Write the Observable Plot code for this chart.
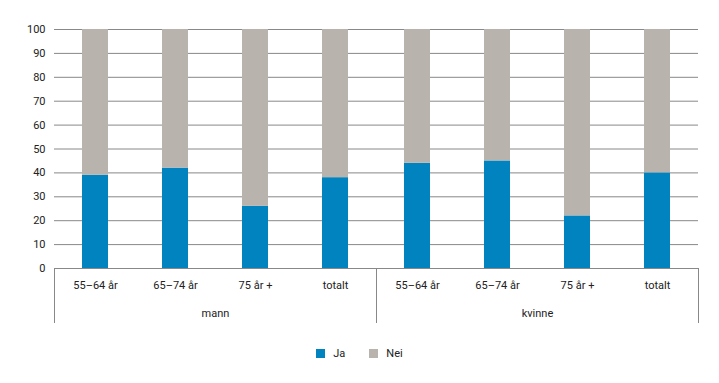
<!DOCTYPE html>
<html>
<head>
<meta charset="utf-8">
<script src="https://cdn.jsdelivr.net/npm/d3@7"></script>
<script src="https://cdn.jsdelivr.net/npm/@observablehq/plot@0.6"></script>
<style>
  body { margin: 0; background: #fff; font-family: Roboto, "Open Sans", sans-serif; }
  #chart { width: 719px; }
  .legend { display: flex; justify-content: center; align-items: center; font-size: 11px; color: #222; margin-top: 12px; gap: 0; }
  .legend .item { display: flex; align-items: center; margin: 0 12px; }
  .legend .sw { width: 9px; height: 9px; display: inline-block; margin-right: 8px; }
</style>
</head>
<body>
<div id="chart"></div>
<script>
const sexes = ["mann", "kvinne"];
const ages = ["55–64 år", "65–74 år", "75 år +", "totalt"];
const jaMann = [39, 42, 26, 38];
const neiMann = [61, 58, 74, 62];
const jaKvinne = [44, 45, 22, 40];
const neiKvinne = [56, 55, 78, 60];
const svar = ["Ja", "Nei"];
const colors = ["#0083be", "#b8b3ad"];
const yTicks = [0, 10, 20, 30, 40, 50, 60, 70, 80, 90, 100];

const series = { mann: [jaMann, neiMann], kvinne: [jaKvinne, neiKvinne] };
const data = [];
for (const s of sexes) {
  ages.forEach((a, j) => {
    svar.forEach((v, k) => data.push({ sex: s, age: a, svar: v, value: series[s][k][j] }));
  });
}

const plot = Plot.plot({
  width: 719,
  height: 335,
  marginTop: 29,
  marginBottom: 67,
  marginLeft: 53,
  marginRight: 21,
  style: { fontFamily: "Roboto, 'Open Sans', sans-serif", fontSize: "11px", color: "#222", background: "#fff" },
  fx: { domain: sexes, padding: 0, label: null },
  x: { domain: ages, paddingInner: 0.68, paddingOuter: 0.34, label: null },
  y: { domain: [0, 100], ticks: yTicks, label: null },
  color: { domain: svar, range: colors },
  marks: [
    Plot.gridY(yTicks, { stroke: "#888888", strokeOpacity: 1 }),
    Plot.barY(data, { fx: "sex", x: "age", y: "value", fill: "svar", order: svar }),
    Plot.ruleY([0], { stroke: "#888888" }),
    Plot.axisY({ ticks: yTicks, tickSize: 0, tickPadding: 9, label: null }),
    Plot.axisX({ tickSize: 0, tickPadding: 13, label: null }),
    Plot.axisFx({ anchor: "bottom", tickSize: 0, tickPadding: 41, label: null })
  ]
});

// group separators below the axis, from the fx scale
const fx = plot.scale("fx");
const y = plot.scale("y");
const y0 = y.apply(0);
const bounds = new Set();
for (const s of sexes) {
  const a = fx.apply(s);
  bounds.add(a);
  bounds.add(a + fx.bandwidth);
}
d3.select(plot).append("g")
  .attr("stroke", "#888888")
  .selectAll("line")
  .data([...bounds])
  .join("line")
  .attr("x1", d => Math.round(d) + 0.5)
  .attr("x2", d => Math.round(d) + 0.5)
  .attr("y1", y0)
  .attr("y2", y0 + 55);

document.getElementById("chart").appendChild(plot);

const legend = d3.select("#chart").append("div").attr("class", "legend");
const items = legend.selectAll(".item").data(svar).join("div").attr("class", "item");
items.append("span").attr("class", "sw").style("background", (d, i) => colors[i]);
items.append("span").text(d => d);
</script>
</body>
</html>
